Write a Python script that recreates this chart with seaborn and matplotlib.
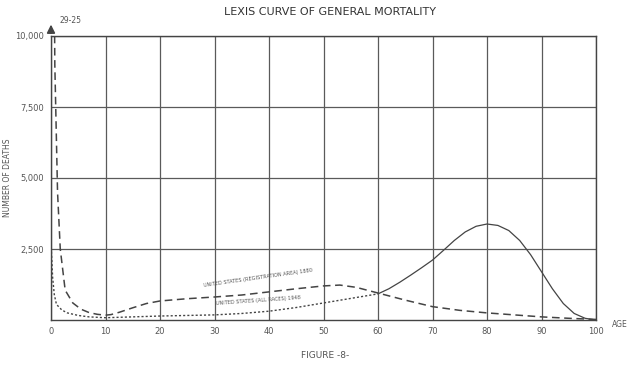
import matplotlib
matplotlib.use("Agg")
import matplotlib.pyplot as plt
import seaborn as sns
import pandas as pd

sns.set_theme(style="white")
plt.rcParams['font.family'] = ['DejaVu Sans']

# Early curve (dashed)
early_age = [0, 0.7, 1.2, 1.7, 2.6, 4, 5.5, 7, 8.5, 10, 11, 12.5, 15, 17.5, 20, 25, 30, 35, 40, 45, 50, 53, 56, 60, 65, 70, 75, 80, 85, 90, 95, 100]
early_deaths = [29125, 9000, 4500, 2500, 1050, 600, 380, 260, 200, 170, 190, 270, 430, 580, 670, 750, 810, 880, 990, 1100, 1200, 1230, 1150, 950, 700, 470, 340, 250, 180, 110, 60, 20]

# Later curve (dotted at young ages, solid at old ages)
late_age = [0, 0.3, 0.6, 1, 2, 3, 5, 7, 10, 15, 20, 25, 30, 35, 40, 45, 50, 55, 60, 62, 64, 66, 68, 70, 72, 74, 76, 78, 80, 82, 84, 86, 88, 90, 92, 94, 96, 98, 100]
late_deaths = [2700, 1500, 900, 550, 350, 250, 160, 110, 80, 110, 140, 160, 180, 230, 310, 440, 600, 760, 920, 1100, 1330, 1580, 1840, 2110, 2450, 2800, 3100, 3300, 3380, 3330, 3150, 2800, 2300, 1700, 1100, 580, 230, 60, 0]

xticks = [0, 10, 20, 30, 40, 50, 60, 70, 80, 90, 100]
yticks = [2500, 5000, 7500, 10000]
ytick_labels = ["2,500", "5,000", "7,500", "10,000"]

early = pd.DataFrame({"age": early_age, "deaths": early_deaths})
late = pd.DataFrame({"age": late_age, "deaths": late_deaths})
late_young = late[late.age <= 60]
late_old = late[late.age >= 60]

fig = plt.figure(figsize=(6.4, 3.71), dpi=100)
ax = fig.add_axes([51/640, 1-320/371, (596-51)/640, (320-36)/371])

ink = "#444444"
sns.lineplot(data=early, x="age", y="deaths", ax=ax, color=ink, lw=1.1,
             linestyle=(0, (5, 3)), estimator=None, sort=False)
sns.lineplot(data=late_young, x="age", y="deaths", ax=ax, color=ink, lw=1.0,
             linestyle=(0, (1.5, 1.5)), estimator=None, sort=False)
sns.lineplot(data=late_old, x="age", y="deaths", ax=ax, color=ink, lw=0.9,
             estimator=None, sort=False)

ax.set_xlim(0, 100)
ax.set_ylim(0, 10000)
ax.set_xticks(xticks)
ax.set_xticklabels([str(t) for t in xticks], fontsize=6, color="#555")
ax.set_yticks(yticks)
ax.set_yticklabels(ytick_labels, fontsize=6, color="#555")
ax.tick_params(length=2, pad=3)
ax.grid(True, color="#5a5a5a", lw=0.9)
for s in ax.spines.values():
    s.set_color("#444")
    s.set_linewidth(1.0)
ax.set_xlabel("")
ax.set_ylabel("NUMBER OF DEATHS", fontsize=5.5, color="#555", labelpad=2)

ax.annotate("", xy=(0, 10500), xytext=(0, 10000), annotation_clip=False,
            arrowprops=dict(arrowstyle="-|>", color=ink, lw=1.2))
ax.text(1.5, 10550, "29-25", fontsize=5.5, color="#555", va="center", clip_on=False)
ax.text(103, 0, "AGE", fontsize=5.5, color="#555", va="top", ha="left")
ax.text(38, 1120, "UNITED STATES (REGISTRATION AREA) 1880", fontsize=3.6, color="#555",
        rotation=8, ha="center", va="bottom")
ax.text(38, 480, "UNITED STATES (ALL RACES) 1948", fontsize=3.6, color="#555",
        rotation=4, ha="center", va="bottom")

fig.text(330/640, 1-12/371, "LEXIS CURVE OF GENERAL MORTALITY", fontsize=8, color="#333",
         ha="center", va="center")
fig.text(325/640, 1-355/371, "FIGURE -8-", fontsize=6.5, color="#555", ha="center", va="center")

fig.savefig("out.png", dpi=100)
